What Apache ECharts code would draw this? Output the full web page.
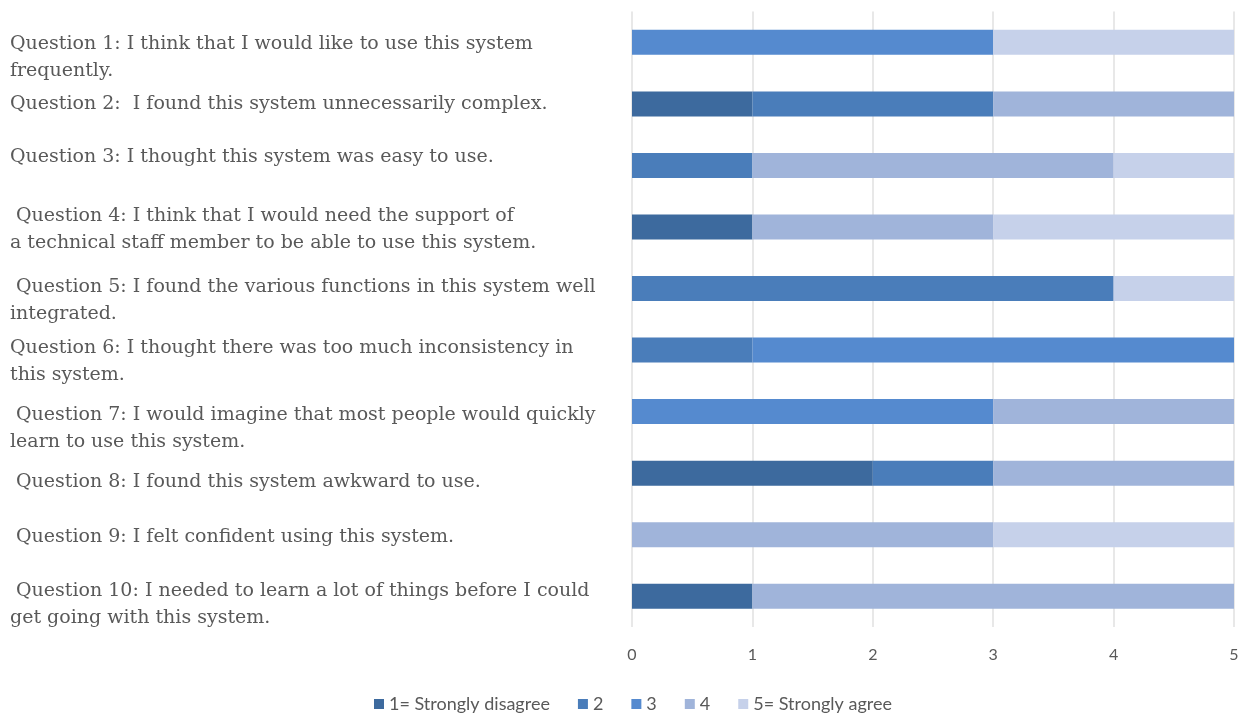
<!DOCTYPE html>
<html>
<head>
<meta charset="utf-8">
<script src="https://cdn.jsdelivr.net/npm/echarts@6/dist/echarts.min.js"></script>
<style>html,body{margin:0;padding:0;background:#fff;}#c{width:1248px;height:715px;}</style>
</head>
<body>
<div id="c"></div>
<script>
var questions = [
  "Question 1: I think that I would like to use this system\nfrequently.",
  "Question 2:  I found this system unnecessarily complex.",
  "Question 3: I thought this system was easy to use.",
  " Question 4: I think that I would need the support of\na technical staff member to be able to use this system.",
  " Question 5: I found the various functions in this system well\nintegrated.",
  "Question 6: I thought there was too much inconsistency in\nthis system.",
  " Question 7: I would imagine that most people would quickly\nlearn to use this system.",
  " Question 8: I found this system awkward to use.",
  " Question 9: I felt confident using this system.",
  " Question 10: I needed to learn a lot of things before I could\nget going with this system."
];
var seriesNames = ["1= Strongly disagree", "2", "3", "4", "5= Strongly agree"];
var r1 = [0, 1, 0, 1, 0, 0, 0, 2, 0, 1];
var r2 = [0, 2, 1, 0, 4, 1, 0, 1, 0, 0];
var r3 = [3, 0, 0, 0, 0, 4, 3, 0, 0, 0];
var r4 = [0, 2, 3, 2, 0, 0, 2, 2, 3, 4];
var r5 = [2, 0, 1, 2, 1, 0, 0, 0, 2, 0];
var xTicks = [0, 1, 2, 3, 4, 5];

// label vertical shift (px) relative to bar centre - styling only
var labelShift = [15.5, -1, -8, 2.5, 12.5, 11.5, 16.5, 9, 2, 8.5];
var colors = ["#3d6a9e", "#4a7dba", "#558acf", "#a0b4da", "#c6d1ea"];

var rich = {};
labelShift.forEach(function (s, i) {
  rich['p' + i] = { lineHeight: Math.max(1, Math.round(Math.abs(s) * 2)), fontSize: 1, height: Math.max(1, Math.round(Math.abs(s) * 2)) };
});

var values = [r1, r2, r3, r4, r5];
var chart = echarts.init(document.getElementById('c'));
chart.setOption({
  animation: false,
  color: colors,
  grid: { left: 632, right: 14, top: 9, bottom: 88, containLabel: false },
  legend: {
    top: 695, left: 374, padding: 0,
    itemWidth: 10, itemHeight: 10, itemGap: 28,
    icon: 'rect',
    textStyle: { fontFamily: 'Lato', fontSize: 18, color: '#595959' },
    data: seriesNames
  },
  xAxis: {
    type: 'value', min: xTicks[0], max: xTicks[xTicks.length - 1], interval: 1,
    axisLine: { show: false }, axisTick: { show: false },
    splitLine: { show: true, lineStyle: { color: '#e0e0e0', width: 1.5 } },
    axisLabel: { fontFamily: 'Lato', fontSize: 16, color: '#595959', margin: 20 }
  },
  yAxis: {
    type: 'category', inverse: true, data: questions,
    axisLine: { show: false }, axisTick: { show: false },
    axisLabel: {
      align: 'left', margin: 622,
      fontFamily: 'DejaVu Serif', fontSize: 19, color: '#595959', lineHeight: 27,
      rich: rich,
      formatter: function (v, i) {
        var s = labelShift[i];
        if (Math.abs(s) < 1.5) return v;
        if (s > 0) return '{p' + i + '| }\n' + v;
        return v + '\n{p' + i + '| }';
      }
    }
  },
  series: seriesNames.map(function (n, k) {
    return {
      name: n, type: 'bar', stack: 'total', barWidth: 25,
      data: values[k]
    };
  })
});
</script>
</body>
</html>
